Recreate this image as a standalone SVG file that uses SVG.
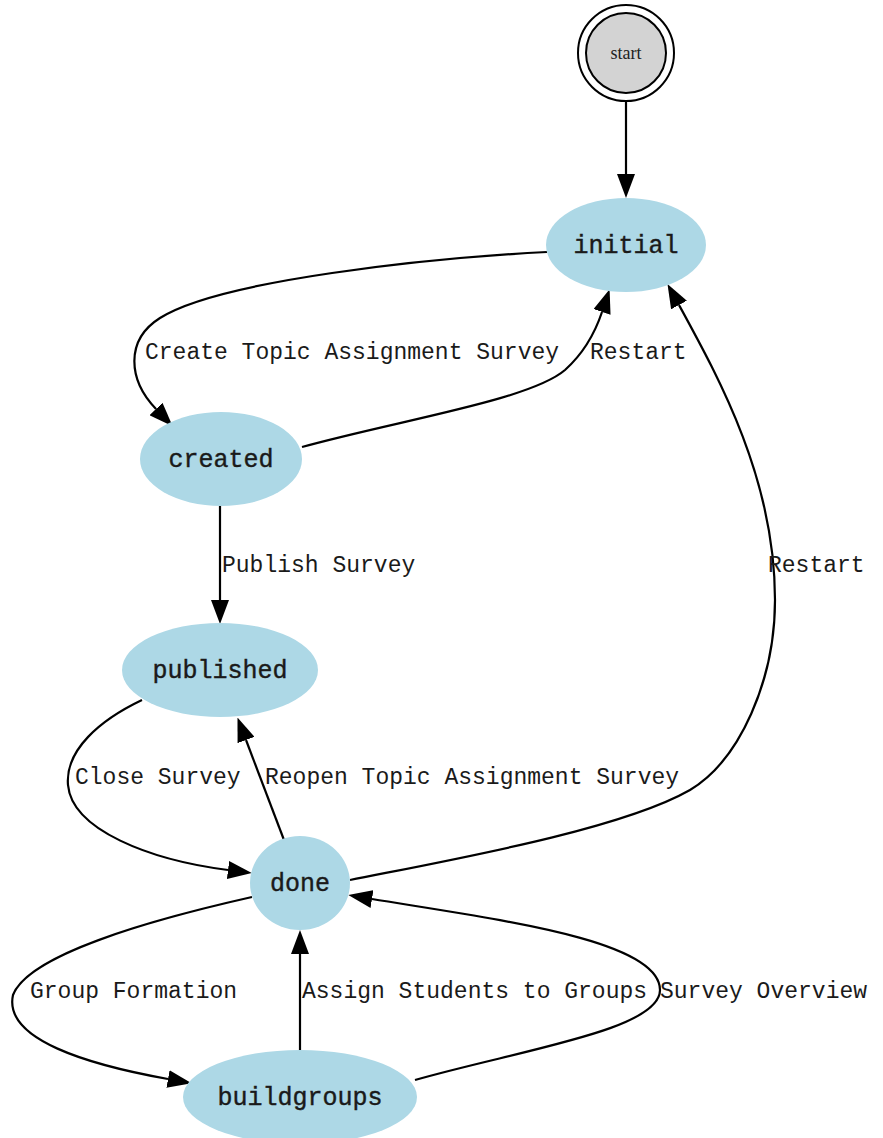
<svg xmlns="http://www.w3.org/2000/svg" width="883" height="1138" viewBox="0 0 883 1138">
<style>
.node{fill:#add8e6;stroke:none}
.nt{font-family:"Liberation Mono","Courier New",monospace;font-size:25px;fill:#1a1a1a;stroke:#1a1a1a;stroke-width:0.4;text-anchor:middle}
.lbl{font-family:"Liberation Mono","Courier New",monospace;font-size:23px;fill:#1a1a1a}
.e{fill:none;stroke:#000;stroke-width:2.2}
</style>
<defs>
<marker id="ah" viewBox="0 0 24 18" refX="0" refY="9" markerWidth="24" markerHeight="18" markerUnits="userSpaceOnUse" orient="auto">
<path d="M0,0 L24,9 L0,18 z" fill="#000"/>
</marker>
</defs>
<rect width="883" height="1138" fill="#fff"/>
<g id="connectors">
<path class="e" d="M626,102 L626,174" marker-end="url(#ah)"/>
<path class="e" d="M547,252 C430,258 220,280 160,318 C125,340 128,380 156,409" marker-end="url(#ah)"/>
<path class="e" d="M302,447 C400,420 530,400 565,370 C585,352 596,330 602,312" marker-end="url(#ah)"/>
<path class="e" d="M220,506 L220,600" marker-end="url(#ah)"/>
<path class="e" d="M142,700 C100,720 65,750 68,785 C72,830 150,860 228,870" marker-end="url(#ah)"/>
<path class="e" d="M284,840 L246,740" marker-end="url(#ah)"/>
<path class="e" d="M350,880 C450,860 620,830 690,790 C740,760 775,680 775,600 C775,480 720,380 679,305" marker-end="url(#ah)"/>
<path class="e" d="M252,897 C150,920 28,955 13,995 C3,1040 90,1065 168,1079" marker-end="url(#ah)"/>
<path class="e" d="M300,1050 L300,954" marker-end="url(#ah)"/>
<path class="e" d="M415,1080 C520,1050 660,1030 660,990 C660,940 500,920 372,899" marker-end="url(#ah)"/>
<text class="lbl" x="145" y="359">Create Topic Assignment Survey</text>
<text class="lbl" x="590" y="359">Restart</text>
<text class="lbl" x="222" y="572">Publish Survey</text>
<text class="lbl" x="75" y="784">Close Survey</text>
<text class="lbl" x="265" y="784">Reopen Topic Assignment Survey</text>
<text class="lbl" x="768" y="572">Restart</text>
<text class="lbl" x="30" y="998">Group Formation</text>
<text class="lbl" x="302" y="998">Assign Students to Groups</text>
<text class="lbl" x="660" y="998">Survey Overview</text>
</g>
<g id="start">
<circle cx="626" cy="53" r="48" fill="#fff" stroke="#000" stroke-width="2"/>
<circle cx="626" cy="53" r="40" fill="#d3d3d3" stroke="#000" stroke-width="2"/>
<text x="626" y="59" font-family="'Liberation Serif','Times New Roman',serif" font-size="18" text-anchor="middle" fill="#222">start</text>
</g>
<g id="initial">
<ellipse class="node" cx="626" cy="245" rx="80" ry="47"/>
<text class="nt" x="626" y="253">initial</text>
</g>
<g id="created">
<ellipse class="node" cx="221" cy="459" rx="81" ry="47"/>
<text class="nt" x="221" y="467">created</text>
</g>
<g id="published">
<ellipse class="node" cx="220" cy="670" rx="98" ry="47"/>
<text class="nt" x="220" y="678">published</text>
</g>
<g id="done">
<ellipse class="node" cx="300" cy="883" rx="50" ry="47"/>
<text class="nt" x="300" y="891">done</text>
</g>
<g id="buildgroups">
<ellipse class="node" cx="300" cy="1097" rx="117" ry="47"/>
<text class="nt" x="300" y="1105">buildgroups</text>
</g>
</svg>
